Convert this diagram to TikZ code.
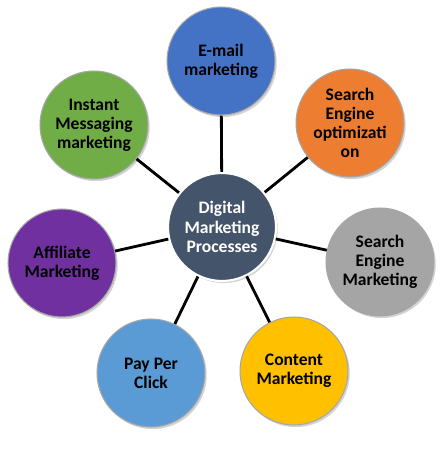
\documentclass[tikz,border=0pt]{standalone}
\usepackage{fontspec}
\setmainfont{Carlito}
\usetikzlibrary{shadows}
\definecolor{hubblue}{HTML}{44546A}
\definecolor{mblue}{HTML}{4472C4}
\definecolor{morange}{HTML}{ED7D31}
\definecolor{mgray}{HTML}{A5A5A5}
\definecolor{mgold}{HTML}{FFC000}
\definecolor{mlight}{HTML}{5B9BD5}
\definecolor{mpurple}{HTML}{7030A0}
\definecolor{mgreen}{HTML}{70AD47}
\tikzset{
    topic/.style={circle, minimum size=2.16cm, inner sep=0pt, draw=gray!70, line width=0.6pt,
        align=center, font=\fontsize{10}{10.9}\selectfont\bfseries,
        drop shadow={shadow xshift=1pt, shadow yshift=-1.2pt, opacity=0.35}},
    link/.style={line width=1.6pt, black}
}
\begin{document}
\begin{tikzpicture}[x=0.02cm, y=-0.02cm]
        \useasboundingbox (0, 0) rectangle (440, 452);
        \node[topic, fill=hubblue, draw=white, line width=1.2pt, text=white] at (222, 227) (hub) {Digital\\Marketing\\Processes};
        \node[topic, fill=mblue] at (221, 61) (email) {E-mail\\marketing};
        \node[topic, fill=morange] at (350, 123) (seo) {Search\\Engine\\optimizati\\on};
        \node[topic, fill=mgray] at (380, 262) (sem) {Search\\Engine\\Marketing};
        \node[topic, fill=mgold] at (294, 371) (content) {Content\\Marketing};
        \node[topic, fill=mlight] at (151, 373) (ppc) {Pay Per\\Click};
        \node[topic, fill=mpurple] at (62, 263) (affiliate) {Affiliate\\Marketing};
        \node[topic, fill=mgreen] at (94, 125) (instant) {Instant\\Messaging\\marketing};
        \foreach \t in {email, seo, sem, content, ppc, affiliate, instant}
            \draw[link] (hub) -- (\t);
    \end{tikzpicture}
\end{document}
